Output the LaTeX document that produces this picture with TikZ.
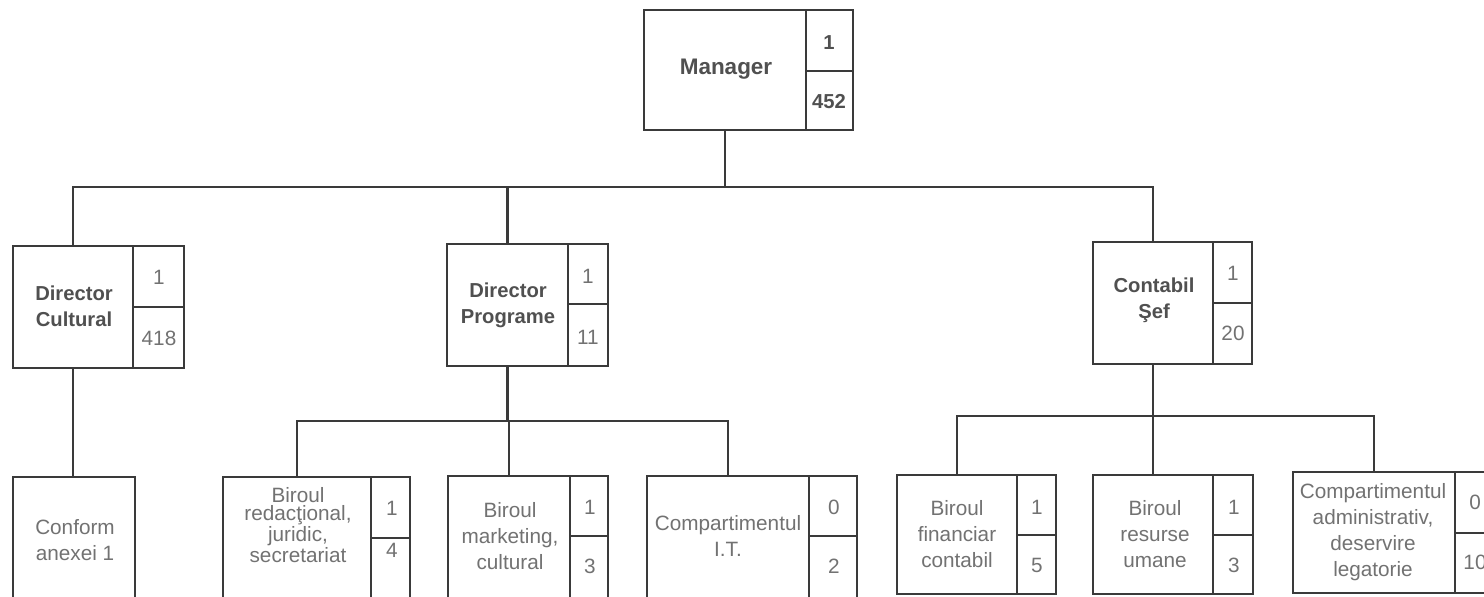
\documentclass[tikz,border=0pt]{standalone}
\usepackage{fontspec}
\setmainfont{Liberation Sans}
\usetikzlibrary{fit}
\definecolor{ln}{HTML}{3A3A3A}
\definecolor{tx}{HTML}{505050}
\definecolor{tl}{HTML}{727272}
\tikzset{
  box/.style={draw=ln, line width=1.3pt, inner sep=0pt, fill=white},
  wire/.style={draw=ln, line width=1.3pt},
  tb/.style={inner sep=0pt, align=center, text=tx, font=\fontsize{11.5}{15}\selectfont\bfseries},
  tbm/.style={tb, font=\fontsize{12.8}{15}\selectfont\bfseries},
  tn/.style={inner sep=0pt, align=center, text=tl, font=\fontsize{11.8}{14.7}\selectfont},
  tnc/.style={tn, font=\fontsize{11.8}{10.4}\selectfont},
}
\begin{document}
\begin{tikzpicture}[x=0.02cm,y=-0.02cm]
\useasboundingbox (0,0) rectangle (1484,596);
\clip (0,0) rectangle (1484,596);
\fill[white] (0,0) rectangle (1484,596);

% ---------- Manager ----------
\node[box, fit={(644,10)(806,130)}] (man) {};
\node[box, fit={(806,10)(853,71)}] (man-a) {};
\node[box, fit={(806,71)(853,130)}] (man-b) {};
\node[tbm] (man-t) at (726,69) {Manager};
\node[tb] (man-n1) at (829,43) {1};
\node[tb] (man-n2) at (829,102) {452};

% ---------- Director Cultural ----------
\node[box, fit={(13,246)(133,368)}] (dc) {};
\node[box, fit={(133,246)(184,307)}] (dc-a) {};
\node[box, fit={(133,307)(184,368)}] (dc-b) {};
\node[tb] (dc-t) at (74,306) {Director\\Cultural};
\node[tn] (dc-n1) at (159,277) {1};
\node[tn] (dc-n2) at (159,338) {418};

% ---------- Director Programe ----------
\node[box, fit={(447,244)(568,366)}] (dp) {};
\node[box, fit={(568,244)(608,304)}] (dp-a) {};
\node[box, fit={(568,304)(608,366)}] (dp-b) {};
\node[tb] (dp-t) at (508,305) {Director\\Programe};
\node[tn] (dp-n1) at (588,276) {1};
\node[tn] (dp-n2) at (588,337) {11};

% ---------- Contabil Sef ----------
\node[box, fit={(1093,242)(1213,364)}] (cs) {};
\node[box, fit={(1213,242)(1252,303)}] (cs-a) {};
\node[box, fit={(1213,303)(1252,364)}] (cs-b) {};
\node[tb] (cs-t) at (1154,300) {Contabil\\Şef};
\node[tn] (cs-n1) at (1233,273) {1};
\node[tn] (cs-n2) at (1233,333) {20};

% ---------- Conform anexei 1 ----------
\node[box, fit={(13,477)(135,610)}] (cf) {};
\node[tn] (cf-t) at (75,540) {Conform\\anexei 1};

% ---------- Biroul redactional ----------
\node[box, fit={(223,477)(371,610)}] (br) {};
\node[box, fit={(371,477)(410,538)}] (br-a) {};
\node[box, fit={(371,538)(410,610)}] (br-b) {};
\node[tnc] (br-t) at (298,525) {Biroul\\redacţional,\\juridic,\\secretariat};
\node[tn] (br-n1) at (392,508) {1};
\node[tn] (br-n2) at (392,550) {4};

% ---------- Biroul marketing ----------
\node[box, fit={(448,476)(570,610)}] (bm) {};
\node[box, fit={(570,476)(608,536)}] (bm-a) {};
\node[box, fit={(570,536)(608,610)}] (bm-b) {};
\node[tn] (bm-t) at (510,536) {Biroul\\marketing,\\cultural};
\node[tn] (bm-n1) at (590,507) {1};
\node[tn] (bm-n2) at (590,566) {3};

% ---------- Compartimentul I.T. ----------
\node[box, fit={(647,476)(809,610)}] (it) {};
\node[box, fit={(809,476)(857,536)}] (it-a) {};
\node[box, fit={(809,536)(857,610)}] (it-b) {};
\node[tn] (it-t) at (728,536) {Compartimentul\\I.T.};
\node[tn] (it-n1) at (834,507) {0};
\node[tn] (it-n2) at (834,566) {2};

% ---------- Biroul financiar contabil ----------
\node[box, fit={(897,475)(1017,594)}] (bf) {};
\node[box, fit={(1017,475)(1056,535)}] (bf-a) {};
\node[box, fit={(1017,535)(1056,594)}] (bf-b) {};
\node[tn] (bf-t) at (957,534) {Biroul\\financiar\\contabil};
\node[tn] (bf-n1) at (1037,507) {1};
\node[tn] (bf-n2) at (1037,565) {5};

% ---------- Biroul resurse umane ----------
\node[box, fit={(1093,475)(1213,594)}] (ru) {};
\node[box, fit={(1213,475)(1253,535)}] (ru-a) {};
\node[box, fit={(1213,535)(1253,594)}] (ru-b) {};
\node[tn] (ru-t) at (1155,534) {Biroul\\resurse\\umane};
\node[tn] (ru-n1) at (1234,507) {1};
\node[tn] (ru-n2) at (1234,565) {3};

% ---------- Compartimentul administrativ ----------
\node[box, fit={(1293,472)(1455,593)}] (ca) {};
\node[box, fit={(1455,472)(1500,533)}] (ca-a) {};
\node[box, fit={(1455,533)(1500,593)}] (ca-b) {};
\node[tn] (ca-t) at (1373,532) {Compartimentul\\administrativ,\\deservire\\legatorie};
\node[tn] (ca-n1) at (1475,502) {0};
\node[tn] (ca-n2) at (1475,562) {10};

% ---------- connectors ----------
\coordinate (j1) at (726,187);
\coordinate (j2) at (508,421);
\coordinate (j3) at (1154,416);

\draw[wire] (man.south) -- (man.south |- j1);
\draw[wire] (dc.north) -- (dc.north |- j1) -- (cs.north |- j1) -- (cs.north);
\draw[wire] (dp.north) -- (dp.north |- j1);

\draw[wire] (dc.south) -- (dc.south |- cf.north);

\draw[wire] (dp.south) -- (dp.south |- j2);
\draw[wire] (br.north) -- (br.north |- j2) -- (it.north |- j2) -- (it.north);
\draw[wire] (bm.north) -- (bm.north |- j2);

\draw[wire] (cs.south) -- (cs.south |- j3);
\draw[wire] (bf.north) -- (bf.north |- j3) -- (ca.north |- j3) -- (ca.north);
\draw[wire] (ru.north) -- (ru.north |- j3);
\end{tikzpicture}
\end{document}
